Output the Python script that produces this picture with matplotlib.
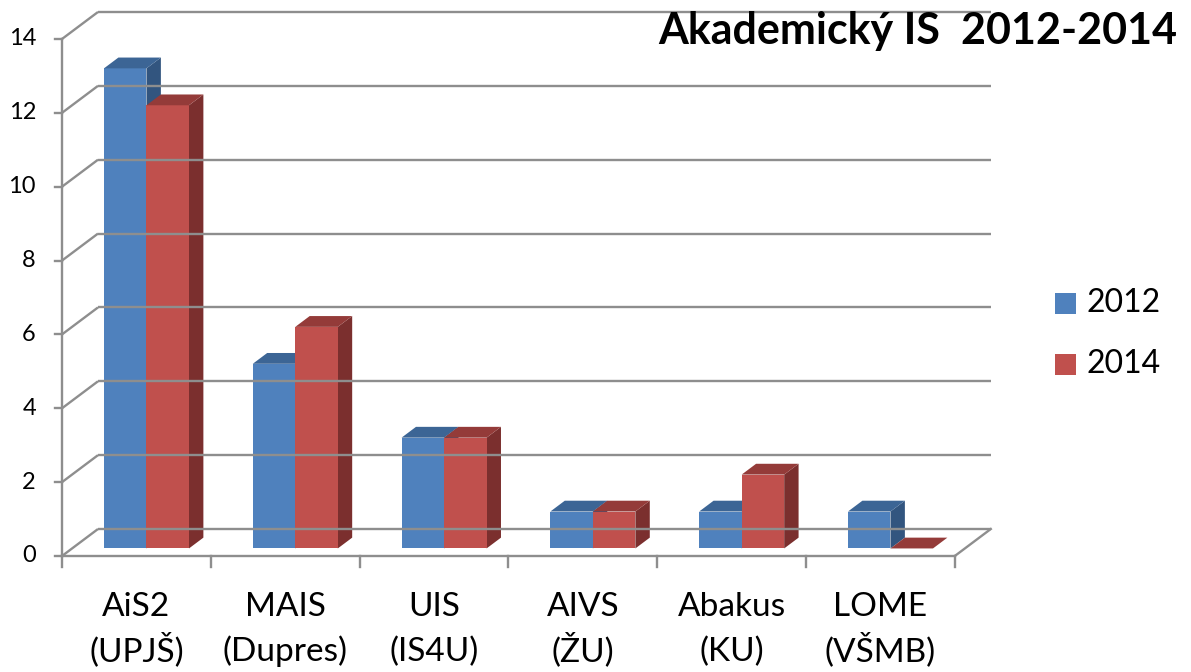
import matplotlib
matplotlib.use("Agg")
import matplotlib.pyplot as plt
from matplotlib.patches import Polygon

plt.rcParams['font.family'] = ['Lato', 'DejaVu Sans']

categories = [("AiS2", "(UPJŠ)"), ("MAIS", "(Dupres)"), ("UIS", "(IS4U)"),
              ("AIVS", "(ŽU)"), ("Abakus", "(KU)"), ("LOME", "(VŠMB)")]
series_names = ["2012", "2014"]
values_2012 = [13, 5, 3, 1, 1, 1]
values_2014 = [12, 6, 3, 1, 2, 0]
y_ticks = [0, 2, 4, 6, 8, 10, 12, 14]
title = "Akademický IS  2012-2014"

front_col = ["#4F81BD", "#C0504D"]
top_col = ["#3C6595", "#943B39"]
side_col = ["#32557F", "#7B2F2E"]
grid_col = "#8E8E8E"

W, H = 1191, 672
fig = plt.figure(figsize=(W / 100, H / 100), dpi=100)
ax = fig.add_axes([0, 0, 1, 1])
# pixel mapping: x=0 -> 62px, 148.8 px/unit ; y=0 -> 556px, 36.93 px/unit
px_x, px_y = 148.8, 36.93
x0p, y0p = 62, 556
ax.set_xlim(-x0p / px_x, (W - x0p) / px_x)
ax.set_ylim((y0p - H) / px_y, y0p / px_y)
ax.axis("off")

n = len(categories)
DX = 36 / px_x   # depth offset in x units
DY = 27 / px_y   # depth offset in y units
lw = 1.7

# back wall gridlines and left diagonals
for v in y_ticks:
    ax.plot([0, DX], [v, v + DY], color=grid_col, lw=lw, solid_capstyle="butt", clip_on=False)
    ax.plot([DX, n + DX], [v + DY, v + DY], color=grid_col, lw=lw, solid_capstyle="butt", clip_on=False)
# floor front edge and right diagonal
ax.plot([0, n], [0, 0], color=grid_col, lw=lw, clip_on=False)
ax.plot([n, n + DX], [0, DY], color=grid_col, lw=lw, clip_on=False)
# front value axis
ax.plot([0, 0], [0, y_ticks[-1]], color=grid_col, lw=lw, clip_on=False)
tick_len_x = 7 / px_x
for v in y_ticks:
    ax.plot([-tick_len_x, 0], [v, v], color=grid_col, lw=lw, clip_on=False)
    ax.text(-26 / px_x, v, str(v), ha="right", va="center", fontsize=17, color="black")
# category ticks
for i in range(n + 1):
    ax.plot([i, i], [0, -11 / px_y], color=grid_col, lw=lw, clip_on=False)

# bars
f0 = 0.28
fd = 0.40
bw = 42.5 / px_x
series = [values_2012, values_2014]
for i in range(n):
    cx = i + 0.5 + f0 * DX
    base = f0 * DY
    for j, vals in enumerate(series):
        v = vals[i]
        xl = cx - bw + j * bw
        xr = xl + bw
        yb, yt = base, base + v
        ddx, ddy = fd * DX, fd * DY
        if v > 0:
            ax.add_patch(Polygon([(xr, yb), (xr + ddx, yb + ddy), (xr + ddx, yt + ddy), (xr, yt)],
                                 closed=True, facecolor=side_col[j], edgecolor="none"))
            ax.add_patch(Polygon([(xl, yb), (xr, yb), (xr, yt), (xl, yt)],
                                 closed=True, facecolor=front_col[j], edgecolor="none"))
        ax.add_patch(Polygon([(xl, yt), (xr, yt), (xr + ddx, yt + ddy), (xl + ddx, yt + ddy)],
                             closed=True, facecolor=top_col[j], edgecolor="none"))

# category labels
for i, (l1, l2) in enumerate(categories):
    ax.text(i + 0.5, (y0p - 616) / px_y, l1, ha="center", va="baseline", fontsize=24)
    ax.text(i + 0.5, (y0p - 661) / px_y, l2, ha="center", va="baseline", fontsize=24)

# legend
for j, name in enumerate(series_names):
    yc = [303, 364][j]
    ax.add_patch(Polygon([((1055 - x0p) / px_x, (y0p - yc + 10.5) / px_y),
                          ((1076 - x0p) / px_x, (y0p - yc + 10.5) / px_y),
                          ((1076 - x0p) / px_x, (y0p - yc - 10.5) / px_y),
                          ((1055 - x0p) / px_x, (y0p - yc - 10.5) / px_y)],
                         closed=True, facecolor=front_col[j], edgecolor="none", clip_on=False))
    ax.text((1086 - x0p) / px_x, (y0p - yc) / px_y, name, ha="left", va="center", fontsize=23)

ax.text((1177 - x0p) / px_x, (y0p - 44) / px_y, title, ha="right", va="baseline",
        fontsize=31, fontweight="bold")

fig.savefig("out.png", dpi=100)
